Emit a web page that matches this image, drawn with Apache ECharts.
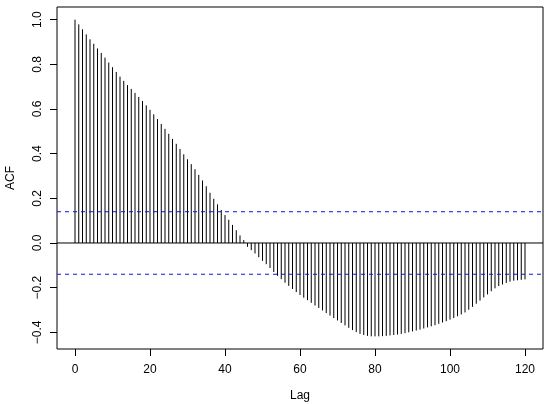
<!DOCTYPE html>
<html>
<head>
<meta charset="utf-8">
<script src="https://cdn.jsdelivr.net/npm/echarts@6/dist/echarts.min.js"></script>
<style>
  html, body { margin: 0; padding: 0; background: #fff; }
  #acf { width: 552px; height: 404px; }
</style>
</head>
<body>
<div id="acf"></div>
<script>
// autocorrelation at lag 0, 1, 2, ... 120
const acfValues = [
  1.000, 0.979, 0.957, 0.934, 0.912, 0.892, 0.871, 0.851, 0.830, 0.808,
  0.787, 0.766, 0.745, 0.726, 0.707, 0.690, 0.672, 0.654, 0.636, 0.616,
  0.596, 0.576, 0.555, 0.533, 0.511, 0.489, 0.466, 0.444, 0.421, 0.397,
  0.375, 0.353, 0.330, 0.305, 0.280, 0.254, 0.225, 0.198, 0.173, 0.148,
  0.125, 0.104, 0.081, 0.057, 0.034, 0.013, -0.017, -0.032, -0.047, -0.064,
  -0.080, -0.095, -0.112, -0.130, -0.147, -0.162, -0.178, -0.192, -0.206, -0.220,
  -0.233, -0.245, -0.256, -0.268, -0.280, -0.291, -0.302, -0.314, -0.325, -0.336,
  -0.347, -0.358, -0.369, -0.380, -0.390, -0.399, -0.407, -0.412, -0.416, -0.418,
  -0.418, -0.418, -0.417, -0.416, -0.414, -0.412, -0.410, -0.407, -0.404, -0.400,
  -0.396, -0.392, -0.388, -0.383, -0.378, -0.373, -0.368, -0.362, -0.356, -0.350,
  -0.343, -0.336, -0.328, -0.320, -0.311, -0.299, -0.286, -0.272, -0.258, -0.244,
  -0.230, -0.216, -0.203, -0.193, -0.186, -0.179, -0.173, -0.169, -0.167, -0.165,
  -0.163
];
const xTicks = [0, 20, 40, 60, 80, 100, 120];
const yTicks = [-0.4, -0.2, 0.0, 0.2, 0.4, 0.6, 0.8, 1.0];
const ciBound = 0.14;

// R pads each axis range by 4%
const xMin = -4.8, xMax = 124.8;
const yLo = Math.min(...acfValues), yHi = Math.max(...acfValues);
const yPad = (yHi - yLo) * 0.04;

const font = 'Liberation Sans, Arial, sans-serif';
const minus = v => String(v).replace('-', '\u2212');

// horizontal reference line across the whole plot box
const hline = (y, color, type) => ({
  type: 'line',
  data: [[xMin, y], [xMax, y]],
  showSymbol: false,
  silent: true,
  z: 3,
  lineStyle: { color: color, type: type, width: 1 }
});

const chart = echarts.init(document.getElementById('acf'));
chart.setOption({
  animation: false,
  grid: {
    left: 57, right: 9, top: 7, bottom: 55,
    outerBoundsMode: 'none', containLabel: false,
    show: true, borderColor: '#000', borderWidth: 1, backgroundColor: 'transparent'
  },
  xAxis: {
    type: 'value', min: xMin, max: xMax,
    name: 'Lag', nameLocation: 'middle', nameGap: 41,
    nameTextStyle: { fontFamily: font, fontSize: 12, color: '#000' },
    axisLine: { show: false, onZero: false },
    axisTick: { show: true, inside: false, length: 7, customValues: xTicks, lineStyle: { color: '#000' } },
    axisLabel: {
      customValues: xTicks, margin: 15,
      fontFamily: font, fontSize: 12, color: '#000'
    },
    splitLine: { show: false }
  },
  yAxis: {
    type: 'value', min: yLo - yPad, max: yHi + yPad,
    name: 'ACF', nameLocation: 'middle', nameGap: 40,
    nameTextStyle: { fontFamily: font, fontSize: 12, color: '#000' },
    axisLine: { show: false, onZero: false },
    axisTick: { show: true, inside: false, length: 7, customValues: yTicks, lineStyle: { color: '#000' } },
    axisLabel: {
      customValues: yTicks, rotate: 90, margin: 13,
      fontFamily: font, fontSize: 12, color: '#000',
      formatter: v => minus(v.toFixed(1))
    },
    splitLine: { show: false }
  },
  series: [
    {
      type: 'custom',
      data: acfValues.map((v, lag) => [lag, v]),
      renderItem: (params, api) => {
        const base = api.coord([api.value(0), 0]);
        const tip = api.coord([api.value(0), api.value(1)]);
        return {
          type: 'line',
          shape: { x1: base[0], y1: base[1], x2: tip[0], y2: tip[1] },
          style: { stroke: '#000', lineWidth: 1 }
        };
      }
    },
    hline(0, '#000', 'solid'),
    hline(ciBound, '#1010dd', [4, 4]),
    hline(-ciBound, '#1010dd', [4, 4])
  ]
});
</script>
</body>
</html>
